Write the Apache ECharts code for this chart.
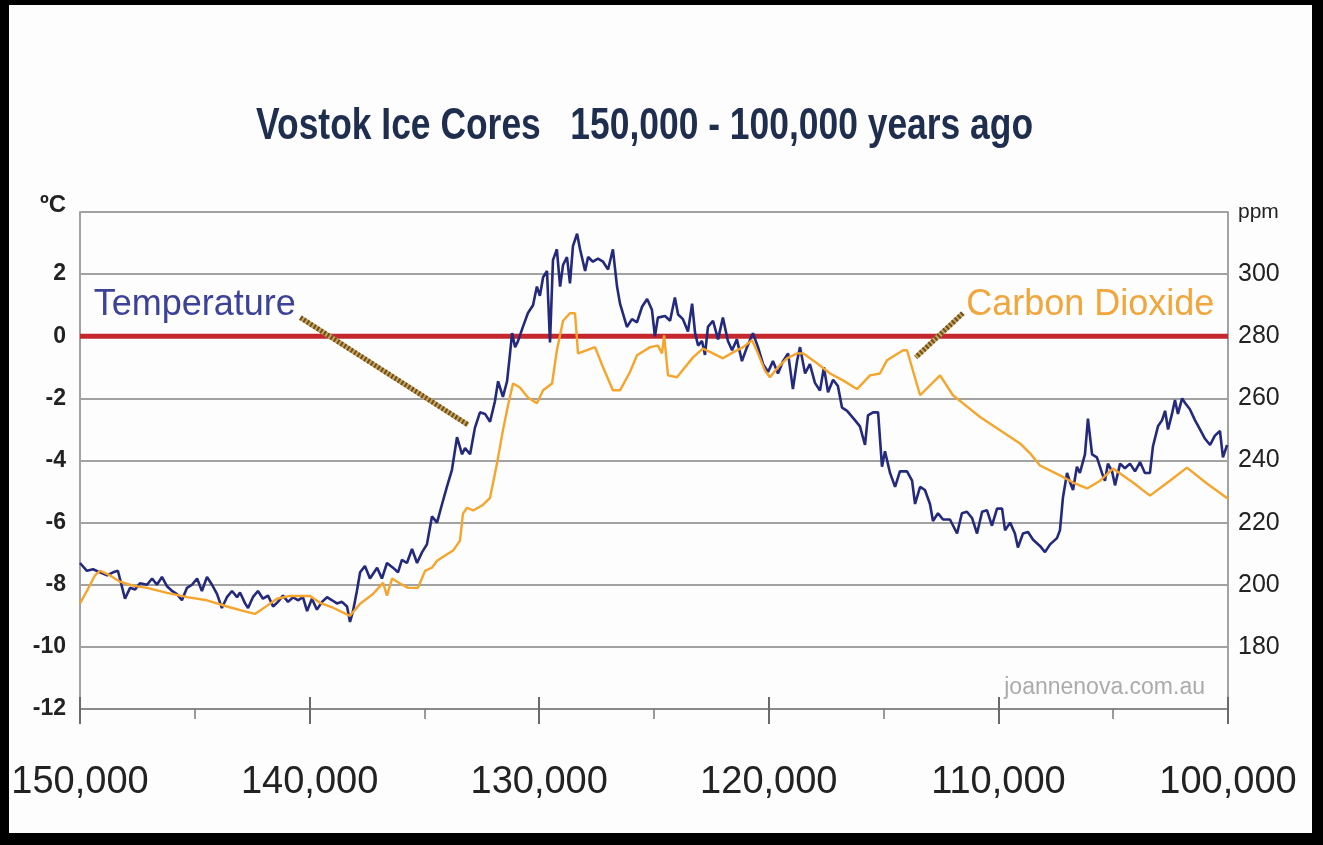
<!DOCTYPE html>
<html lang="en">
<head>
    <meta charset="UTF-8">
    <title>Vostok Ice Cores</title>
    <style>
        body {
            margin: 0;
            background: #000;
        }
        #paper {
            position: absolute;
            left: 9px;
            top: 5px;
            width: 1303px;
            height: 828px;
            background: #fdfdfd;
        }
        #vostok {
            position: absolute;
            left: 0;
            top: 0;
            width: 1323px;
            height: 845px;
        }
    </style>
</head>
<body>
<div id="paper"></div>
<div id="vostok"></div>

<script src="https://cdn.jsdelivr.net/npm/echarts@6/dist/echarts.min.js"></script>
<script>
    // thousands of years ago, degrees C relative to present
    var tempPoints = [
        [150.0, -7.3], [149.7, -7.55], [149.43, -7.5], [149.13, -7.6], [148.82, -7.7], [148.56, -7.6], [148.35, -7.55],
        [148.04, -8.45], [147.82, -8.1], [147.6, -8.15], [147.39, -7.95], [147.08, -8.0], [146.86, -7.8], [146.65, -8.0],
        [146.43, -7.75], [146.21, -8.05], [145.99, -8.2], [145.78, -8.3], [145.56, -8.5], [145.34, -8.1], [145.12, -8.0],
        [144.9, -7.8], [144.69, -8.2], [144.47, -7.75], [144.25, -8.0], [144.03, -8.3], [143.82, -8.75], [143.6, -8.4],
        [143.38, -8.2], [143.16, -8.4], [143.03, -8.25], [142.81, -8.6], [142.68, -8.75], [142.47, -8.4], [142.25, -8.2],
        [142.03, -8.45], [141.81, -8.35], [141.59, -8.7], [141.38, -8.55], [141.16, -8.35], [140.94, -8.55], [140.72, -8.4],
        [140.51, -8.5], [140.29, -8.4], [140.11, -8.85], [139.9, -8.45], [139.68, -8.8], [139.46, -8.55], [139.24, -8.4],
        [139.02, -8.5], [138.81, -8.6], [138.59, -8.55], [138.37, -8.7], [138.24, -9.2], [138.11, -8.85], [137.94, -8.2],
        [137.8, -7.6], [137.59, -7.4], [137.37, -7.8], [137.06, -7.45], [136.85, -7.8], [136.63, -7.3], [136.37, -7.45],
        [136.15, -7.6], [135.98, -7.2], [135.76, -7.3], [135.54, -6.85], [135.32, -7.3], [135.1, -6.95], [134.89, -6.7],
        [134.67, -5.8], [134.45, -6.0], [134.23, -5.4], [134.02, -4.85], [133.8, -4.3], [133.58, -3.25], [133.36, -3.8],
        [133.23, -3.6], [133.01, -3.8], [132.8, -2.95], [132.58, -2.45], [132.36, -2.5], [132.14, -2.75], [131.93, -2.1],
        [131.79, -1.45], [131.58, -1.95], [131.4, -1.45], [131.27, -0.55], [131.18, 0.1], [131.05, -0.35], [130.92, -0.15],
        [130.71, 0.3], [130.49, 0.75], [130.27, 1.0], [130.1, 1.6], [129.97, 1.3], [129.83, 1.9], [129.66, 2.1],
        [129.53, -0.2], [129.4, 2.45], [129.23, 2.8], [129.09, 1.6], [128.96, 2.3], [128.79, 2.55], [128.66, 1.7],
        [128.53, 2.9], [128.35, 3.3], [128.22, 2.8], [128.0, 2.1], [127.87, 2.55], [127.66, 2.4], [127.44, 2.5],
        [127.22, 2.4], [127.0, 2.15], [126.79, 2.8], [126.61, 1.6], [126.48, 1.05], [126.18, 0.3], [125.96, 0.55],
        [125.74, 0.45], [125.52, 0.95], [125.3, 1.2], [125.09, 0.85], [124.96, 0.0], [124.83, 0.6], [124.52, 0.65],
        [124.3, 0.5], [124.09, 1.25], [123.95, 0.7], [123.74, 0.55], [123.52, 0.15], [123.34, 1.05], [123.21, 0.1],
        [123.08, -0.3], [122.91, -0.15], [122.78, -0.6], [122.65, 0.3], [122.43, 0.5], [122.21, -0.1], [122.0, 0.6],
        [121.78, -0.15], [121.6, -0.45], [121.39, -0.1], [121.17, -0.8], [120.95, -0.35], [120.69, 0.1], [120.47, -0.35],
        [120.25, -0.9], [120.03, -1.15], [119.82, -0.8], [119.6, -1.2], [119.38, -0.8], [119.16, -0.55], [118.95, -1.7],
        [118.77, -0.8], [118.64, -0.35], [118.42, -1.2], [118.21, -0.9], [117.99, -1.5], [117.77, -1.75], [117.6, -1.0],
        [117.42, -1.8], [117.2, -1.4], [116.99, -1.6], [116.81, -2.3], [116.59, -2.4], [116.25, -2.7], [116.03, -2.9],
        [115.81, -3.5], [115.68, -2.55], [115.46, -2.45], [115.24, -2.45], [115.07, -4.2], [114.94, -3.7], [114.72, -4.4],
        [114.5, -4.85], [114.29, -4.35], [113.98, -4.35], [113.76, -4.65], [113.63, -5.4], [113.41, -4.85], [113.2, -4.95],
        [112.98, -5.4], [112.85, -5.95], [112.63, -5.7], [112.41, -5.9], [112.11, -5.9], [111.8, -6.35], [111.59, -5.7],
        [111.37, -5.65], [111.15, -5.85], [110.93, -6.35], [110.71, -5.65], [110.5, -5.6], [110.28, -6.1], [110.06, -5.55],
        [109.84, -5.55], [109.71, -6.25], [109.49, -6.0], [109.28, -6.35], [109.15, -6.8], [108.93, -6.35], [108.71, -6.3],
        [108.49, -6.55], [108.19, -6.75], [107.97, -6.95], [107.75, -6.7], [107.45, -6.5], [107.32, -6.25], [107.19, -5.2],
        [107.01, -4.4], [106.88, -4.7], [106.75, -4.95], [106.58, -4.2], [106.45, -4.4], [106.23, -3.8], [106.1, -2.65],
        [105.92, -3.8], [105.71, -3.9], [105.49, -4.4], [105.36, -4.65], [105.23, -4.1], [105.05, -4.35], [104.92, -4.8],
        [104.7, -4.1], [104.49, -4.25], [104.27, -4.1], [104.05, -4.35], [103.83, -4.05], [103.62, -4.4], [103.4, -4.4],
        [103.27, -3.55], [103.05, -2.9], [102.87, -2.7], [102.74, -2.4], [102.61, -3.0], [102.44, -2.5], [102.31, -2.05],
        [102.18, -2.5], [102.0, -2.0], [101.87, -2.15], [101.66, -2.35], [101.44, -2.7], [101.22, -3.0], [101.0, -3.3],
        [100.78, -3.5], [100.57, -3.2], [100.35, -3.05], [100.22, -3.9], [100.04, -3.5]
    ];

    // thousands of years ago, ppm
    var co2Points = [
        [150.0, 194], [149.7, 198], [149.35, 203], [149.13, 204.5], [148.69, 203], [148.26, 201], [147.69, 199.7],
        [147.08, 199], [146.21, 197.4], [145.34, 196], [144.47, 195], [143.6, 193], [142.9, 191.6], [142.38, 190.6],
        [141.86, 193.2], [141.42, 195.5], [140.85, 196.4], [139.98, 196.4], [139.55, 194.2], [138.98, 192.6], [138.24, 190],
        [137.8, 193.9], [137.24, 197], [136.8, 200.6], [136.63, 196.5], [136.41, 202], [136.06, 200.4], [135.71, 199],
        [135.28, 199], [134.97, 204.5], [134.67, 205.5], [134.45, 207.7], [134.1, 209.4], [133.75, 211], [133.45, 214.2],
        [133.32, 222.9], [133.14, 224.8], [132.88, 223.9], [132.49, 225.5], [132.14, 228], [131.84, 239], [131.58, 249.7],
        [131.36, 257.7], [131.14, 264.8], [130.84, 263.5], [130.49, 260.3], [130.1, 258.4], [129.83, 262.6], [129.44, 264.8],
        [129.23, 275.5], [128.96, 285], [128.66, 287.4], [128.44, 287.4], [128.31, 274.5], [127.92, 275.5], [127.57, 276.5],
        [127.22, 270], [126.79, 262.6], [126.48, 262.6], [126.05, 268.4], [125.74, 273.9], [125.17, 276.5], [124.83, 277],
        [124.65, 274.5], [124.56, 280.3], [124.39, 267.4], [124.0, 266.8], [123.65, 270], [123.3, 273.2], [122.87, 276],
        [122.43, 274.5], [122.0, 272.9], [121.56, 274.8], [121.12, 276.5], [120.73, 278.7], [120.47, 274.5], [120.17, 269],
        [119.95, 266.8], [119.6, 270], [119.21, 272.9], [118.77, 274.5], [118.51, 274.5], [117.9, 271.3], [117.33, 268],
        [116.77, 265.8], [116.16, 263], [115.59, 267.4], [115.16, 268], [114.85, 272.3], [114.15, 275.5], [113.98, 275.5],
        [113.41, 261], [112.54, 267.4], [111.98, 261], [111.54, 258.4], [110.8, 254], [109.93, 249.7], [109.06, 245.5],
        [108.62, 242.3], [108.19, 238.4], [107.32, 235.2], [106.75, 232.9], [106.14, 231], [105.57, 233.5], [105.01, 237.4],
        [104.7, 235.8], [104.14, 232.9], [103.4, 228.7], [102.53, 233.5], [101.79, 237.7], [100.92, 232.6], [100.0, 227.7]
    ];

    var ageTicks = [150, 140, 130, 120, 110, 100];
    var tempTicks = [-12, -10, -8, -6, -4, -2, 0, 2, 4];
    var ppmTicks = [160, 180, 200, 220, 240, 260, 280, 300, 320];
    var zeroLine = [[150, 0], [100, 0]];
    var tempPointer = [[140.4, 0.6], [133.1, -2.85]];
    var co2Pointer = [[111.55, 287.4], [113.6, 273.2]];

    var gridGray = '#a2a2a2';
    var pointerBase = {type: 'solid', color: '#c9a45a', width: 5};
    var pointerDash = {type: [2, 2], color: '#6e5020', width: 5};

    function pointerLines(p) {
        return [
            [{coord: p[0], lineStyle: pointerBase}, {coord: p[1]}],
            [{coord: p[0], lineStyle: pointerDash}, {coord: p[1]}]
        ];
    }

    function ageLabel(v) {
        return (v * 1000).toLocaleString('en-US');
    }

    var chart = echarts.init(document.getElementById('vostok'));
    var option = {
        animation: false,
        backgroundColor: 'transparent',
        grid: {left: 80, right: 95, top: 212, bottom: 136},
        graphic: [
            {
                // condensed look: squeeze a tall bold face horizontally
                type: 'text',
                x: 256,
                y: 127,
                scaleX: 0.805,
                style: {
                    text: 'Vostok Ice Cores   150,000 - 100,000 years ago',
                    fill: '#1f2d4e',
                    font: 'bold 44px "Liberation Sans", Arial, sans-serif',
                    textAlign: 'left',
                    textVerticalAlign: 'middle'
                }
            },
            {
                type: 'text',
                right: 118,
                top: 676,
                style: {
                    text: 'joannenova.com.au',
                    fill: '#ababab',
                    font: '23px "Liberation Sans", Arial, sans-serif'
                }
            }
        ],
        xAxis: [
            {
                type: 'value',
                inverse: true,
                min: ageTicks[ageTicks.length - 1],
                max: ageTicks[0],
                interval: 10,
                axisLine: {show: true, onZero: false, lineStyle: {color: '#8a8a8a', width: 2}},
                axisTick: {show: true, length: 15, lineStyle: {color: '#6a6a6a', width: 2}},
                minorTick: {show: true, splitNumber: 2, length: 10, lineStyle: {color: '#7a7a7a', width: 1.5}},
                splitLine: {show: false},
                axisLabel: {
                    margin: 55,
                    color: '#222',
                    fontSize: 38,
                    fontFamily: '"Liberation Sans", Arial, sans-serif',
                    formatter: ageLabel
                }
            },
            {
                type: 'value',
                inverse: true,
                position: 'bottom',
                min: ageTicks[ageTicks.length - 1],
                max: ageTicks[0],
                interval: 10,
                axisLine: {show: false, onZero: false},
                axisTick: {show: true, inside: true, length: 12, lineStyle: {color: '#6a6a6a', width: 2}},
                axisLabel: {show: false},
                splitLine: {show: false}
            }
        ],
        yAxis: [
            {
                type: 'value',
                min: tempTicks[0],
                max: tempTicks[tempTicks.length - 1],
                interval: 2,
                axisLine: {show: true, lineStyle: {color: gridGray, width: 2}},
                axisTick: {show: false},
                splitLine: {show: true, lineStyle: {color: gridGray, width: 2}},
                axisLabel: {
                    margin: 14,
                    color: '#222',
                    fontSize: 23,
                    fontWeight: 'bold',
                    fontFamily: '"Liberation Sans", Arial, sans-serif',
                    formatter: function (v) {
                        return v === 4 ? '{u|ºC}' : v;
                    },
                    rich: {u: {fontSize: 24, fontWeight: 'bold', color: '#222', padding: [0, 0, 14, 0]}}
                }
            },
            {
                type: 'value',
                position: 'right',
                min: ppmTicks[0],
                max: ppmTicks[ppmTicks.length - 1],
                interval: 20,
                axisLine: {show: true, lineStyle: {color: gridGray, width: 2}},
                axisTick: {show: false},
                splitLine: {show: false},
                axisLabel: {
                    margin: 10,
                    color: '#222',
                    fontSize: 25,
                    fontFamily: '"Liberation Sans", Arial, sans-serif',
                    formatter: function (v) {
                        if (v === 160) return '';
                        if (v === 320) return '{u|ppm}';
                        return v;
                    },
                    rich: {u: {fontSize: 21, color: '#222', fontFamily: '"Liberation Sans", Arial, sans-serif'}}
                }
            }
        ],
        series: [
            {
                name: 'zero',
                type: 'line',
                data: zeroLine,
                showSymbol: false,
                silent: true,
                z: 1,
                lineStyle: {color: '#c4282e', width: 5}
            },
            {
                name: 'Temperature',
                type: 'line',
                data: tempPoints,
                showSymbol: false,
                z: 3,
                lineStyle: {color: '#23297c', width: 2.6},
                markPoint: {
                    silent: true,
                    symbol: 'circle',
                    symbolSize: 1,
                    itemStyle: {color: 'transparent'},
                    label: {
                        show: true,
                        position: 'inside',
                        color: '#3d4299',
                        fontSize: 36,
                        fontFamily: '"Liberation Sans", Arial, sans-serif',
                        formatter: 'Temperature'
                    },
                    data: [{coord: [145.0, 1.0]}]
                },
                markLine: {
                    silent: true,
                    symbol: ['none', 'none'],
                    label: {show: false},
                    data: pointerLines(tempPointer)
                }
            },
            {
                name: 'Carbon Dioxide',
                type: 'line',
                yAxisIndex: 1,
                data: co2Points,
                showSymbol: false,
                z: 4,
                lineStyle: {color: '#f6a42a', width: 2.4},
                markPoint: {
                    silent: true,
                    symbol: 'circle',
                    symbolSize: 1,
                    itemStyle: {color: 'transparent'},
                    label: {
                        show: true,
                        position: 'inside',
                        color: '#f2a53a',
                        fontSize: 36,
                        fontFamily: '"Liberation Sans", Arial, sans-serif',
                        formatter: 'Carbon Dioxide'
                    },
                    data: [{coord: [106.0, 290]}]
                },
                markLine: {
                    silent: true,
                    symbol: ['none', 'none'],
                    label: {show: false},
                    data: pointerLines(co2Pointer)
                }
            }
        ]
    };
    chart.setOption(option);
</script>
</body>
</html>
